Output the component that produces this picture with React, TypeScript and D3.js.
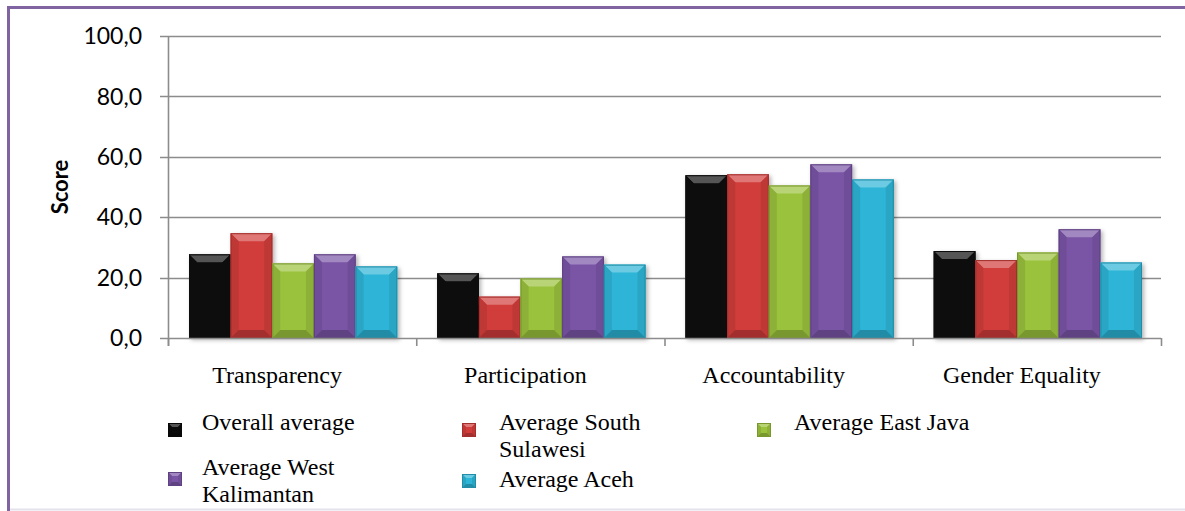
import React from "react";
import { useEffect, useRef } from "react";
import * as d3 from "d3";

const categories = ["Transparency", "Participation", "Accountability", "Gender Equality"];
const seriesNames = [
  "Overall average",
  "Average South Sulawesi",
  "Average East Java",
  "Average West Kalimantan",
  "Average Aceh",
];
const overallAverage = [27.7, 21.4, 53.9, 28.8];
const southSulawesi = [34.7, 13.7, 54.2, 25.8];
const eastJava = [24.7, 19.7, 50.5, 28.3];
const westKalimantan = [27.7, 27.0, 57.5, 36.0];
const aceh = [23.7, 24.3, 52.5, 25.0];
const seriesValues = [overallAverage, southSulawesi, eastJava, westKalimantan, aceh];
const seriesColors = ["#0a0a0a", "#d03c3a", "#9ac23c", "#7a55a6", "#2db4d6"];
const yTicks = [0, 20, 40, 60, 80, 100];

// legend text lines, broken like the original
const legendLines = [
  ["Overall average"],
  ["Average South", "Sulawesi"],
  ["Average East Java"],
  ["Average West", "Kalimantan"],
  ["Average Aceh"],
];

const W = 1185;
const H = 511;
const serif = "'Liberation Serif', 'Times New Roman', serif";

function bevel(g: any, x: number, y: number, w: number, h: number, color: string, b: number) {
  const light = d3.interpolateRgb(color, "#ffffff")(0.3);
  const dark = (d3.color(color) as any).darker(0.7).formatHex();
  const side = (d3.color(color) as any).darker(0.25).formatHex();
  const bb = Math.min(b, h / 2, w / 2);
  const pts = (a: number[][]) => a.map((p) => p.join(",")).join(" ");
  g.append("rect").attr("x", x).attr("y", y).attr("width", w).attr("height", h).attr("fill", color);
  g.append("polygon").attr("points", pts([[x, y], [x + w, y], [x + w - bb, y + bb], [x + bb, y + bb]])).attr("fill", light);
  g.append("polygon").attr("points", pts([[x, y], [x + bb, y + bb], [x + bb, y + h - bb], [x, y + h]])).attr("fill", side);
  g.append("polygon").attr("points", pts([[x + w, y], [x + w - bb, y + bb], [x + w - bb, y + h - bb], [x + w, y + h]])).attr("fill", side);
  g.append("polygon").attr("points", pts([[x, y + h], [x + bb, y + h - bb], [x + w - bb, y + h - bb], [x + w, y + h]])).attr("fill", dark);
  g.append("rect").attr("x", x + 0.5).attr("y", y + 0.5).attr("width", w - 1).attr("height", h - 1)
    .attr("fill", "none").attr("stroke", dark).attr("stroke-width", 1);
}

const App = () => {
  const ref = useRef<SVGSVGElement>(null);

  useEffect(() => {
    const svg = d3.select(ref.current);
    svg.selectAll("*").remove();

    const left = 168, right = 1161, top = 36, bottom = 338;

    const x0 = d3.scaleBand().domain(categories).range([left, right]).paddingInner(0).paddingOuter(0);
    const x1 = d3.scaleBand().domain(seriesNames).range([21, x0.bandwidth() - 19]).padding(0);
    const y = d3.scaleLinear().domain([0, 100]).range([bottom, top]);

    const defs = svg.append("defs");
    const f = defs.append("filter").attr("id", "shadow").attr("x", "-20%").attr("y", "-20%").attr("width", "150%").attr("height", "150%");
    f.append("feDropShadow").attr("dx", 2).attr("dy", 2).attr("stdDeviation", 2).attr("flood-color", "#000").attr("flood-opacity", 0.3);

    // frame
    svg.append("rect").attr("x", 0).attr("y", 0).attr("width", W).attr("height", H).attr("fill", "#fff");
    svg.append("line").attr("x1", 7).attr("x2", W).attr("y1", 7.5).attr("y2", 7.5).attr("stroke", "#8064a2").attr("stroke-width", 3);
    svg.append("line").attr("x1", 8.5).attr("x2", 8.5).attr("y1", 6).attr("y2", H).attr("stroke", "#8064a2").attr("stroke-width", 3);
    svg.append("line").attr("x1", 10).attr("x2", W).attr("y1", 509.5).attr("y2", 509.5).attr("stroke", "#e4e2ec").attr("stroke-width", 2);

    // gridlines
    svg.append("g")
      .selectAll("line")
      .data(yTicks.filter((t) => t > 0))
      .join("line")
      .attr("x1", left - 8).attr("x2", right)
      .attr("y1", (d) => Math.round(y(d)) + 0.5).attr("y2", (d) => Math.round(y(d)) + 0.5)
      .attr("stroke", "#8c8c8c").attr("stroke-width", 1.6);

    // bars
    const gb = svg.append("g").attr("filter", "url(#shadow)");
    categories.forEach((cat, ci) => {
      seriesNames.forEach((s, si) => {
        const v = seriesValues[si][ci];
        const bx = (x0(cat) as number) + (x1(s) as number);
        bevel(gb, bx, y(v), x1.bandwidth(), y(0) - y(v), seriesColors[si], 8);
      });
    });

    // axes
    const ax = svg.append("g").attr("stroke", "#8c8c8c").attr("stroke-width", 1.6);
    ax.append("line").attr("x1", left + 0.5).attr("x2", left + 0.5).attr("y1", top).attr("y2", bottom + 8);
    ax.append("line").attr("x1", left - 8).attr("x2", right).attr("y1", bottom + 0.5).attr("y2", bottom + 0.5);
    ax.selectAll("line.tk")
      .data([...categories.map((c) => x0(c) as number), right])
      .join("line")
      .attr("class", "tk")
      .attr("x1", (d) => d + 0.5).attr("x2", (d) => d + 0.5)
      .attr("y1", bottom).attr("y2", bottom + 8);

    const fmt = (d: number) => d.toFixed(1).replace(".", ",");
    svg.append("g")
      .selectAll("text")
      .data(yTicks)
      .join("text")
      .attr("x", 142).attr("y", (d) => y(d))
      .attr("dy", "0.36em")
      .attr("text-anchor", "end")
      .attr("font-family", "Lato, sans-serif")
      .attr("font-size", 23)
      .attr("fill", "#000")
      .text(fmt);

    svg.append("text")
      .attr("transform", `translate(68,${(top + bottom) / 2}) rotate(-90)`)
      .attr("text-anchor", "middle")
      .attr("font-family", "Lato, sans-serif")
      .attr("font-weight", "bold")
      .attr("font-size", 22)
      .text("Score");

    svg.append("g")
      .selectAll("text")
      .data(categories)
      .join("text")
      .attr("x", (d) => (x0(d) as number) + x0.bandwidth() / 2 - 15)
      .attr("y", 383)
      .attr("text-anchor", "middle")
      .attr("font-family", serif)
      .attr("font-size", 24)
      .text((d) => d);

    // legend: marker x,y and first text baseline
    const legendPos = [
      [168, 423, 430], [462, 423, 430], [757, 423, 430], [168, 472, 475], [462, 474, 487],
    ];
    const lg = svg.append("g");
    seriesNames.forEach((s, i) => {
      const [mx, my, ty] = legendPos[i];
      bevel(lg, mx, my, 14, 14, seriesColors[i], 4);
      legendLines[i].forEach((t, k) => {
        lg.append("text")
          .attr("x", mx + (i % 3 === 0 && i !== 0 ? 34 : i === 0 ? 34 : 37))
          .attr("y", ty + k * 27)
          .attr("font-family", serif)
          .attr("font-size", 24)
          .text(t);
      });
    });
  }, []);

  return (
    <svg ref={ref} width={W} height={H} style={{ position: "absolute", left: 0, top: 0 }} />
  );
};

export default App;
